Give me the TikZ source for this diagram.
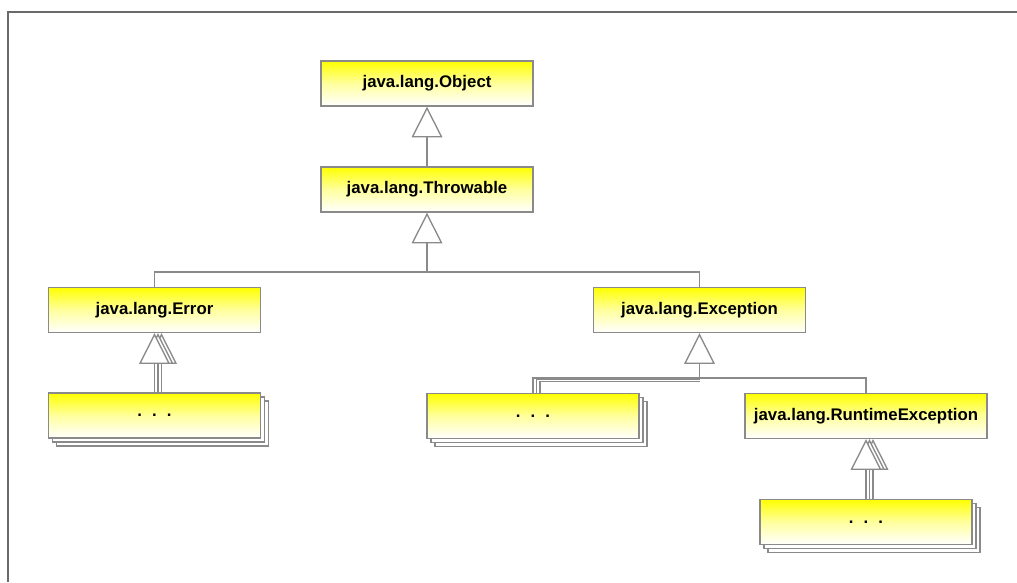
\documentclass[tikz,border=0pt]{standalone}
\usepackage{fontspec}
\setmainfont{Liberation Sans}
\usetikzlibrary{arrows.meta,shadows,calc}
\definecolor{boxgray}{HTML}{8A8A8A}
\definecolor{framegray}{HTML}{6A6A6A}
\begin{document}
\begin{tikzpicture}[x=0.75pt,y=-0.75pt,
  cls/.style={draw=boxgray, line width=1pt, top color=yellow, bottom color=white,
    middle color=yellow!38!white,
    minimum width=159pt, minimum height=33.75pt, inner sep=0pt,
    font=\fontsize{12.6}{15}\selectfont\bfseries},
  wide/.style={minimum width=181.5pt},
  stack/.style={double copy shadow={shadow xshift=3pt, shadow yshift=-3pt,
    fill=white, draw=boxgray, line width=1pt}},
  link/.style={draw=boxgray, line width=1pt},
  inh/.style={link, -{Triangle[length=23pt,width=23pt,fill=white]}}]
\useasboundingbox (0,0) rectangle (1017,582);
\draw[framegray, line width=1.5pt] (8,582) -- (8,12) -- (1017,12);

\node[cls] (obj) at (427,83.5) {java.lang.Object};
\node[cls] (thr) at (427,189.5) {java.lang.Throwable};
\node[cls] (err) at (154.5,310) {java.lang.Error};
\node[cls] (exc) at (699.5,310) {java.lang.Exception};
\node[cls,stack] (errsub) at (154.5,415.5) {.\hspace{0.6em}.\hspace{0.6em}.};
\node[cls,stack] (excsub) at (533,416) {.\hspace{0.6em}.\hspace{0.6em}.};
\node[cls,wide] (rte) at (866,416) {java.lang.RuntimeException};
\node[cls,stack] (rtesub) at (866,522) {.\hspace{0.6em}.\hspace{0.6em}.};

% Object <- Throwable
\draw[inh] (thr.north) -- (obj.south);

% Throwable <- Error, Exception
\coordinate (j1) at (427,272);
\draw[link] (err.north) |- (j1) -| (exc.north);
\draw[inh] (j1) -- (thr.south);

% Error <- ...
\foreach \s in {7,3.5,0}
  \draw[inh] ($(errsub.north)+(\s,0)$) -- ($(err.south)+(\s,0)$);

% Exception <- ..., RuntimeException
\coordinate (j2) at (699.5,378);
\foreach \s/\t in {7/3.5,3.5/1.75,0/0}
  \draw[link] ($(excsub.north)+(\s,0)$) |- ($(j2)+(0,\t)$);
\draw[link] (rte.north) |- (j2);
\draw[inh] (j2) -- (exc.south);

% RuntimeException <- ...
\foreach \s in {7,3.5,0}
  \draw[inh] ($(rtesub.north)+(\s,0)$) -- ($(rte.south)+(\s,0)$);
\end{tikzpicture}
\end{document}
